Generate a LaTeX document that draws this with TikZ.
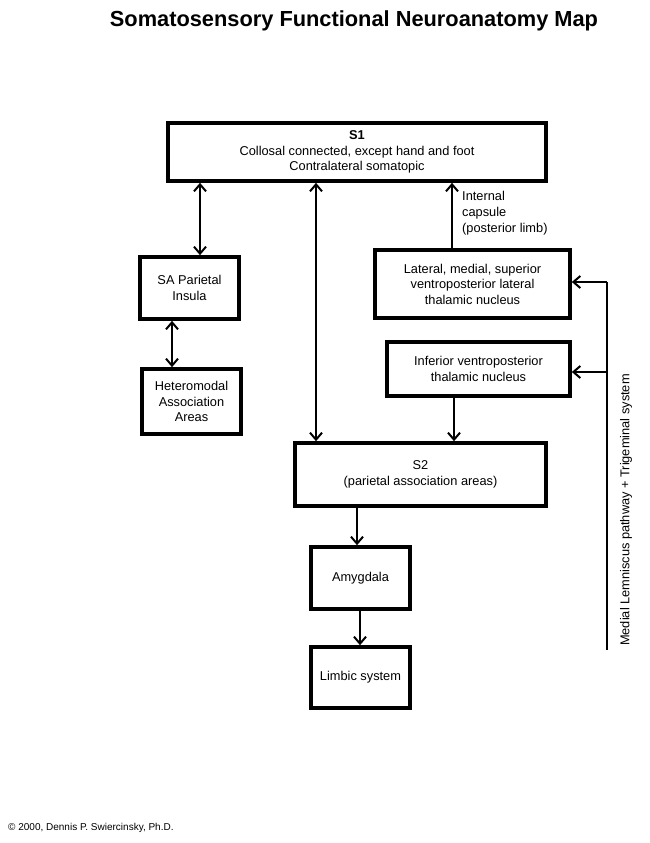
\documentclass[tikz,border=0pt]{standalone}
\usepackage{fontspec}
\setmainfont{Liberation Sans}
\usetikzlibrary{arrows.meta}
\begin{document}
\begin{tikzpicture}[x=1pt,y=-1pt,
  box/.style={draw, line width=3.6pt, align=center, inner sep=2pt, font=\fontsize{12.8}{15.5}\selectfont},
  conn/.style={line width=2pt, -{Straight Barb[length=7pt,width=12pt,line width=2pt]}},
  biconn/.style={line width=2pt, {Straight Barb[length=7pt,width=12pt,line width=2pt]}-{Straight Barb[length=7pt,width=12pt,line width=2pt]}},
  lab/.style={font=\fontsize{12.8}{16}\selectfont, inner sep=0pt}]
\useasboundingbox (0,0) rectangle (650,843);

\node[font=\fontsize{21.8}{26}\selectfont\bfseries] (title) at (354,21) {Somatosensory Functional Neuroanatomy Map};

\node[box, minimum width=378pt, minimum height=58pt] (S1) at (357,152) {\textbf{S1}\\Collosal connected, except hand and foot\\Contralateral somatopic};
\node[box, minimum width=99pt, minimum height=62pt] (SA) at (189.5,288) {SA Parietal\\Insula};
\node[box, minimum width=99pt, minimum height=65pt] (HM) at (191.5,401.5) {Heteromodal\\Association\\Areas};
\node[box, minimum width=195pt, minimum height=68pt] (LAT) at (472.5,284) {Lateral, medial, superior\\ventroposterior lateral\\thalamic nucleus};
\node[box, minimum width=183pt, minimum height=54pt] (INF) at (478.5,369) {Inferior ventroposterior\\thalamic nucleus};
\node[box, minimum width=251pt, minimum height=63pt] (S2) at (420.5,474.5) {S2\\(parietal association areas)};
\node[box, minimum width=99pt, minimum height=62pt] (AMY) at (360.5,578) {Amygdala};
\node[box, minimum width=99pt, minimum height=61pt] (LIM) at (360.5,677.5) {Limbic system};

\coordinate (xa) at (200,0);
\coordinate (xb) at (172,0);
\coordinate (xc) at (316,0);
\coordinate (xd) at (452,0);
\coordinate (xe) at (454,0);
\coordinate (xf) at (357,0);
\coordinate (xg) at (360,0);
\coordinate (rb) at (607,650);
\coordinate (rt) at (607,282);
\coordinate (rm) at (607,372);

\draw[biconn] (S1.south -| xa) -- (SA.north -| xa);
\draw[biconn] (SA.south -| xb) -- (HM.north -| xb);
\draw[biconn] (S1.south -| xc) -- (S2.north -| xc);
\draw[conn] (LAT.north -| xd) -- (S1.south -| xd);
\draw[conn] (INF.south -| xe) -- (S2.north -| xe);
\draw[conn] (S2.south -| xf) -- (AMY.north -| xf);
\draw[conn] (AMY.south -| xg) -- (LIM.north -| xg);

\draw[line width=2pt] (rb) -- (rt);
\draw[conn] (rt) -- (LAT.east |- rt);
\draw[conn] (rm) -- (INF.east |- rm);

\node[lab, anchor=north west, align=left] (ic) at (462,191) {Internal\\capsule\\(posterior limb)};
\node[lab, rotate=90] (ml) at (626,510) {Medial Lemniscus pathway + Trigeminal system};
\node[font=\fontsize{10}{12}\selectfont, anchor=west, inner sep=0pt] (copy) at (8,828) {\textcopyright{} 2000, Dennis P. Swiercinsky, Ph.D.};
\end{tikzpicture}
\end{document}
